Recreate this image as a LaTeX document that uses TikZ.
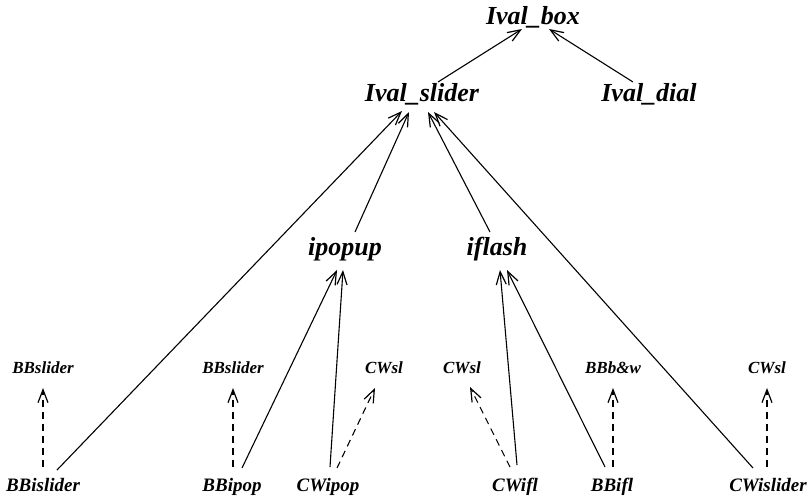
\documentclass[tikz,border=0pt]{standalone}
\usepackage{fontspec}
\setmainfont{Liberation Serif}
\usetikzlibrary{arrows.meta, calc, positioning}
\tikzset{cls/.style={font=\fontsize{26}{30}\selectfont\bfseries\itshape, anchor=base, inner sep=0pt}}
\tikzset{leaf/.style={font=\fontsize{19}{22}\selectfont\bfseries\itshape, anchor=base, inner sep=0pt}}
\tikzset{impl/.style={font=\fontsize{17}{20}\selectfont\bfseries\itshape, anchor=base, inner sep=0pt}}
\tikzset{isa/.style={line width=1.1pt, -{Straight Barb[length=13pt, width=10pt, line width=1.2pt]}}}
\tikzset{uses/.style={isa, dash pattern=on 7pt off 5pt}}
\begin{document}
\begin{tikzpicture}[x=1pt, y=-1pt]
                        \useasboundingbox (0, 0) rectangle (810, 496);

                        \node[cls] (box) at (533, 24) {Ival\_box};
                        \node[cls] (slider) at (422, 101) {Ival\_slider};
                        \node[cls] (dial) at (649, 101) {Ival\_dial};
                        \node[cls] (ipopup) at (345, 255) {ipopup};
                        \node[cls] (iflash) at (497, 255) {iflash};

                        \node[leaf] (bbislider) at (43, 491) {BBislider};
                        \node[leaf] (bbipop) at (232, 491) {BBipop};
                        \node[leaf] (cwipop) at (328, 491) {CWipop};
                        \node[leaf] (cwifl) at (515, 491) {CWifl};
                        \node[leaf] (bbifl) at (612, 491) {BBifl};
                        \node[leaf] (cwislider) at (768, 491) {CWislider};

                        \node[impl] (bbsliderA) at (43, 373) {BBslider};
                        \node[impl] (bbsliderB) at (233, 373) {BBslider};
                        \node[impl] (cwslA) at (384, 373) {CWsl};
                        \node[impl] (cwslB) at (462, 373) {CWsl};
                        \node[impl] (bbbw) at (613, 373) {BBb\&w};
                        \node[impl] (cwslC) at (767, 373) {CWsl};

                        \draw[isa] ([shift={(16,-19)}]slider.base) -- ([shift={(-11,5)}]box.base);
                        \draw[isa] ([shift={(-16,-19)}]dial.base) -- ([shift={(16,5)}]box.base);

                        \draw[isa] ([shift={(14,-21)}]bbislider.base) -- ([shift={(-20,10)}]slider.base);
                        \draw[isa] ([shift={(10,-23)}]ipopup.base) -- ([shift={(-13,11)}]slider.base);
                        \draw[isa] ([shift={(-7,-23)}]iflash.base) -- ([shift={(6,11)}]slider.base);
                        \draw[isa] ([shift={(-15,-23)}]cwislider.base) -- ([shift={(12,11)}]slider.base);

                        \draw[isa] ([shift={(10,-23)}]bbipop.base) -- ([shift={(-8,15)}]ipopup.base);
                        \draw[isa] ([shift={(2,-24)}]cwipop.base) -- ([shift={(-2,15)}]ipopup.base);
                        \draw[isa] ([shift={(2,-26)}]cwifl.base) -- ([shift={(3,15)}]iflash.base);
                        \draw[isa] ([shift={(-7,-24)}]bbifl.base) -- ([shift={(10,15)}]iflash.base);

                        \draw[uses] ([shift={(0,-24)}]bbislider.base) -- ([shift={(0,15)}]bbsliderA.base);
                        \draw[uses] ([shift={(1,-24)}]bbipop.base) -- ([shift={(0,15)}]bbsliderB.base);
                        \draw[uses] ([shift={(9,-23)}]cwipop.base) -- ([shift={(-9,15)}]cwslA.base);
                        \draw[uses] ([shift={(-5,-24)}]cwifl.base) -- ([shift={(8,14)}]cwslB.base);
                        \draw[uses] ([shift={(1,-24)}]bbifl.base) -- ([shift={(0,15)}]bbbw.base);
                        \draw[uses] ([shift={(-1,-24)}]cwislider.base) -- ([shift={(0,15)}]cwslC.base);
                    \end{tikzpicture}
\end{document}
